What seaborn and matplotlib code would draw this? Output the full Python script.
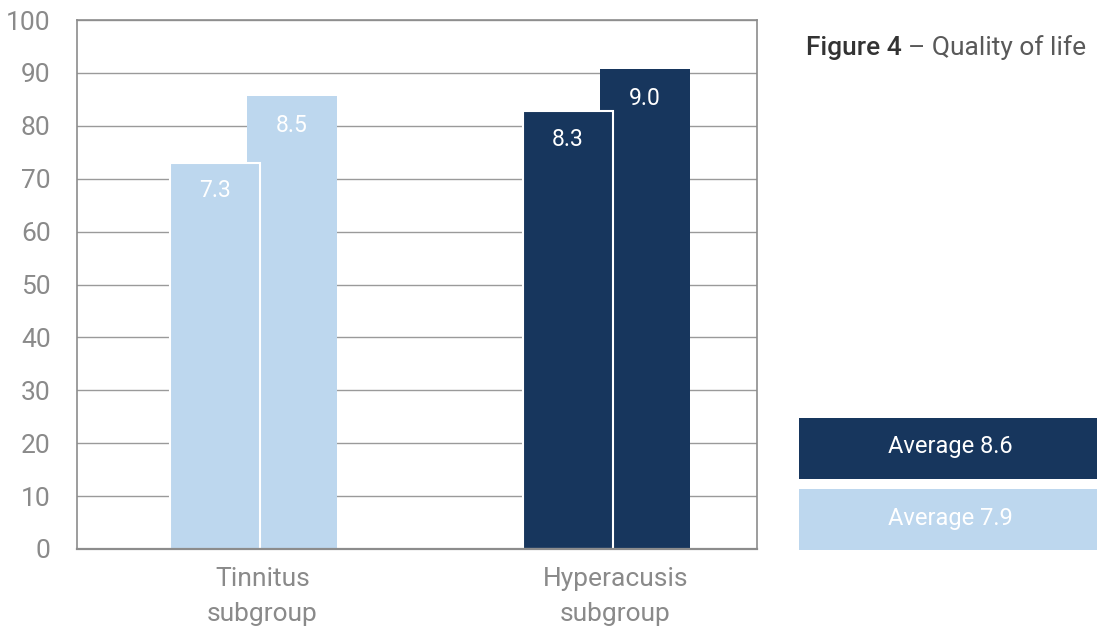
import matplotlib
matplotlib.use("Agg")
import matplotlib.pyplot as plt
from matplotlib.patches import Rectangle
import seaborn as sns
import pandas as pd

# data
groups = ["Tinnitus\nsubgroup", "Hyperacusis\nsubgroup"]
first_values = [73.0, 82.8]      # front bars
second_values = [85.6, 90.7]     # back bars
first_labels = ["7.3", "8.3"]
second_labels = ["8.5", "9.0"]
group_colors = ["#BDD7EE", "#17365D"]
averages = ["Average 8.6", "Average 7.9"]
average_colors = ["#17365D", "#BDD7EE"]

sns.set_theme(style="white")
plt.rcParams["font.family"] = ["Roboto", "DejaVu Sans"]

fig = plt.figure(figsize=(10.97, 6.31), dpi=100)
ax = fig.add_axes([77 / 1097, 82 / 631, 680 / 1097, 529 / 631])

bar_width = 0.255
offset = 0.109
palette = dict(zip(groups, group_colors))

df_back = pd.DataFrame({"group": groups, "value": second_values})
df_front = pd.DataFrame({"group": groups, "value": first_values})

# back bars first, then front bars on top, shifted apart so they overlap
n0 = len(ax.patches)
sns.barplot(data=df_back, x="group", y="value", hue="group", palette=palette,
            dodge=False, width=bar_width, legend=False, ax=ax, linewidth=0,
            saturation=1)
back_bars = ax.patches[n0:]
n1 = len(ax.patches)
sns.barplot(data=df_front, x="group", y="value", hue="group", palette=palette,
            dodge=False, width=bar_width, legend=False, ax=ax,
            edgecolor="white", linewidth=1.5, saturation=1)
front_bars = ax.patches[n1:]

for bar in back_bars:
    bar.set_x(bar.get_x() + offset)
    bar.set_zorder(2)
for bar in front_bars:
    bar.set_x(bar.get_x() - offset)
    bar.set_zorder(3)

for bars, labels, dy in [(front_bars, first_labels, 5.3), (back_bars, second_labels, 5.5)]:
    for bar, lab in zip(bars, labels):
        ax.text(bar.get_x() + bar.get_width() / 2, bar.get_height() - dy, lab,
                ha="center", va="center", color="white", fontsize=16.5,
                zorder=4)

ax.set_xlim(-0.5, 1.426)
ax.set_ylim(0, 100)
ax.set_yticks(range(0, 101, 10))
ax.set_xticks([i + 0.025 for i in range(len(groups))])
ax.set_xticklabels(groups, linespacing=1.6)
ax.yaxis.grid(True, color="#9A9A9A", linewidth=1.0, zorder=0)
ax.set_axisbelow(True)
ax.set_xlabel("")
ax.set_ylabel("")
ax.tick_params(axis="y", length=0, pad=19, labelsize=19, labelcolor="#8A8A8A")
ax.tick_params(axis="x", length=0, pad=13, labelsize=19, labelcolor="#8A8A8A")
for side, spine in ax.spines.items():
    spine.set_color("#8C8C8C")
    spine.set_linewidth(1.2)
    spine.set_zorder(5)
ax.spines["bottom"].set_linewidth(1.6)

# title at the right side
t1 = fig.text(806 / 1097, 1 - 55 / 631, "Figure 4", fontsize=19, color="#333333",
              fontweight="medium", ha="left", va="baseline")
fig.canvas.draw()
x_end = t1.get_window_extent().x1 / fig.bbox.width
fig.text(x_end + 6 / 1097, 1 - 55 / 631, "\u2013 Quality of life", fontsize=19,
         color="#595959", ha="left", va="baseline")

# average boxes
box_tops = [418, 489]
for top, txt, col in zip(box_tops, averages, average_colors):
    fig.add_artist(Rectangle((799 / 1097, 1 - (top + 61) / 631), 298 / 1097, 61 / 631,
                             transform=fig.transFigure, facecolor=col,
                             edgecolor="none"))
    fig.text(950 / 1097, 1 - (top + 29) / 631, txt, ha="center", va="center",
             fontsize=17, color="white")

fig.savefig("out.png", dpi=100)
